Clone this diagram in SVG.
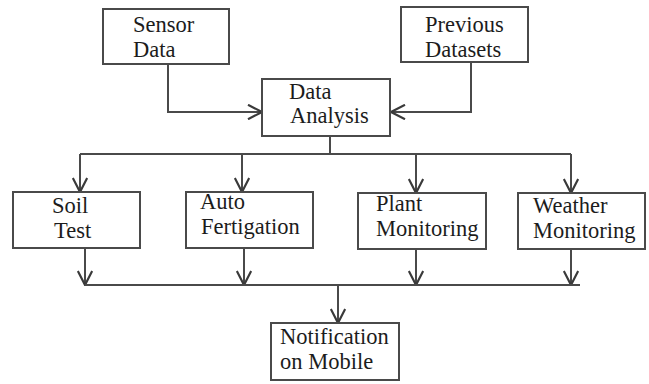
<svg xmlns="http://www.w3.org/2000/svg" width="649" height="384" viewBox="0 0 649 384">
<style>
.box{fill:#fff;stroke:#4a4a4a;stroke-width:2}
.t{font-family:"Liberation Serif","DejaVu Serif",serif;font-size:22.5px;fill:#1c1c1c}
.c{fill:none;stroke:#4a4a4a;stroke-width:2}
</style>
<defs>
<marker id="ah" viewBox="0 0 16 16" refX="15" refY="8" markerWidth="16" markerHeight="16" markerUnits="userSpaceOnUse" orient="auto">
<path d="M1,0.8 L15,8 L1,15.2" fill="none" stroke="#3a3a3a" stroke-width="2.2"/>
</marker>
</defs>
<rect width="649" height="384" fill="#fff"/>
<g id="connectors">
<path class="c" d="M168,64 V112 H262" marker-end="url(#ah)"/>
<path class="c" d="M471,62 V112 H391" marker-end="url(#ah)"/>
<path class="c" d="M330,136 V154"/>
<path class="c" d="M80,154 H571"/>
<path class="c" d="M80,154 V192" marker-end="url(#ah)"/>
<path class="c" d="M242,154 V192" marker-end="url(#ah)"/>
<path class="c" d="M416,154 V193" marker-end="url(#ah)"/>
<path class="c" d="M571,154 V193" marker-end="url(#ah)"/>
<path class="c" d="M85,248 V285" marker-end="url(#ah)"/>
<path class="c" d="M244,248 V285" marker-end="url(#ah)"/>
<path class="c" d="M416,249 V285" marker-end="url(#ah)"/>
<path class="c" d="M571,249 V285" marker-end="url(#ah)"/>
<path class="c" d="M85,285 H580"/>
<path class="c" d="M338,285 V323" marker-end="url(#ah)"/>
</g>
<g id="sensor-data">
<rect class="box" x="103" y="9" width="126" height="55"/>
<text class="t" x="133" y="32">Sensor</text>
<text class="t" x="133" y="57">Data</text>
</g>
<g id="previous-datasets">
<rect class="box" x="401" y="7" width="127" height="55"/>
<text class="t" x="425" y="32">Previous</text>
<text class="t" x="425" y="57">Datasets</text>
</g>
<g id="data-analysis">
<rect class="box" x="262" y="79" width="128" height="57"/>
<text class="t" x="289" y="99">Data</text>
<text class="t" x="290" y="123">Analysis</text>
</g>
<g id="soil-test">
<rect class="box" x="13" y="192" width="127" height="56"/>
<text class="t" x="52" y="213">Soil</text>
<text class="t" x="54" y="238">Test</text>
</g>
<g id="auto-fertigation">
<rect class="box" x="186" y="192" width="127" height="56"/>
<text class="t" x="200" y="209">Auto</text>
<text class="t" x="201" y="234">Fertigation</text>
</g>
<g id="plant-monitoring">
<rect class="box" x="358" y="193" width="128" height="56"/>
<text class="t" x="376" y="211">Plant</text>
<text class="t" x="376" y="236">Monitoring</text>
</g>
<g id="weather-monitoring">
<rect class="box" x="518" y="193" width="127" height="56"/>
<text class="t" x="533" y="213">Weather</text>
<text class="t" x="533" y="238">Monitoring</text>
</g>
<g id="notification-on-mobile">
<rect class="box" x="271" y="323" width="128" height="57"/>
<text class="t" x="280" y="344">Notification</text>
<text class="t" x="280" y="369">on Mobile</text>
</g>
</svg>
